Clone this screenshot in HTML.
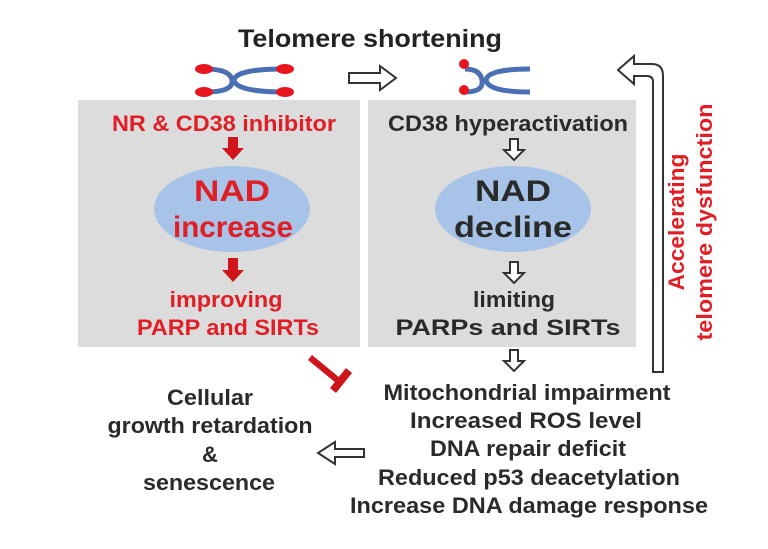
<!DOCTYPE html>
<html><head><style>
body{margin:0;width:768px;height:544px;background:#fff;overflow:hidden;font-family:"Liberation Sans",sans-serif;font-weight:bold;}
svg text{font-family:"Liberation Sans",sans-serif;font-weight:bold;}
</style></head><body>
<svg width="768" height="544" viewBox="0 0 768 544">
<rect x="78" y="100" width="282" height="247" fill="#dcdcdc"/>
<rect x="368" y="100" width="268" height="247" fill="#dcdcdc"/>
<text x="370" y="47" font-size="25" text-anchor="middle" fill="#222" textLength="264" lengthAdjust="spacingAndGlyphs">Telomere shortening</text>
<g fill="none" stroke="#4a6fb5" stroke-width="5">
<path d="M205 69 Q230 69 232 80 Q234 92 205 92"/>
<path d="M285 69 Q236 69 234 80 Q236 92 285 92"/>
<path d="M465 69 Q480 69 482 80 Q484 92 465 92"/>
<path d="M530 69 Q488 69 486 80 Q488 92 530 92"/>
</g>
<g fill="#e8141e">
<ellipse cx="204" cy="69" rx="9" ry="5"/><ellipse cx="204" cy="92" rx="9" ry="5"/>
<ellipse cx="285" cy="69" rx="9" ry="5"/><ellipse cx="285" cy="92" rx="9" ry="5"/>
<ellipse cx="464" cy="64" rx="5" ry="5"/><ellipse cx="464" cy="90" rx="5" ry="5"/>
</g>
<g fill="#fff" stroke="#333" stroke-width="2">
<path d="M349 73 H380 V66 L396 78 L380 90 V83 H349 Z"/>
<path d="M510 139 V150 H504 L514 160 L524 150 H518 V139 Z"/>
<path d="M510 262 V273 H504 L514 283 L524 273 H518 V262 Z"/>
<path d="M510 350 V361 H504 L514 371 L524 361 H518 V350 Z"/>
<path d="M364 449 H335 V442 L318 453 L335 464 V457 H364 Z"/>
<path d="M653 372 V82 Q653 76 647 76 H634 V84 L618 70 L634 56 V64 H652 Q663 64 663 76 V372 Z"/>
</g>
<g fill="#d0141c">
<path d="M228 137 V148 H222 L233 160 L244 148 H238 V137 Z"/>
<path d="M228 258 V270 H222 L233 282 L244 270 H238 V258 Z"/>
<path d="M312 355 L340 378 L336 383 L308 360 Z"/>
<path d="M330 388 L346 368 L352 373 L336 393 Z"/>
</g>
<ellipse cx="232" cy="209" rx="78" ry="43" fill="#a8c3e8"/>
<ellipse cx="513" cy="209" rx="78" ry="43" fill="#a8c3e8"/>
<g fill="#e01e26" text-anchor="middle">
<text x="224" y="131" font-size="22" textLength="224" lengthAdjust="spacingAndGlyphs">NR &amp; CD38 inhibitor</text>
<text x="232" y="201" font-size="30" textLength="76" lengthAdjust="spacingAndGlyphs">NAD</text>
<text x="233" y="237" font-size="30" textLength="120" lengthAdjust="spacingAndGlyphs">increase</text>
<text x="226" y="307" font-size="22" textLength="113" lengthAdjust="spacingAndGlyphs">improving</text>
<text x="228" y="335" font-size="22" textLength="182" lengthAdjust="spacingAndGlyphs">PARP and SIRTs</text>
<text transform="translate(684 222) rotate(-90)" font-size="22" textLength="137" lengthAdjust="spacingAndGlyphs">Accelerating</text>
<text transform="translate(712 222) rotate(-90)" font-size="22" textLength="237" lengthAdjust="spacingAndGlyphs">telomere dysfunction</text>
</g>
<g fill="#2a2a2a" text-anchor="middle">
<text x="508" y="131" font-size="22" textLength="240" lengthAdjust="spacingAndGlyphs">CD38 hyperactivation</text>
<text x="513" y="201" font-size="30" textLength="76" lengthAdjust="spacingAndGlyphs">NAD</text>
<text x="513" y="237" font-size="30" textLength="118" lengthAdjust="spacingAndGlyphs">decline</text>
<text x="514" y="307" font-size="22" textLength="82" lengthAdjust="spacingAndGlyphs">limiting</text>
<text x="508" y="335" font-size="22" textLength="225" lengthAdjust="spacingAndGlyphs">PARPs and SIRTs</text>
<text x="527" y="400" font-size="22" textLength="287" lengthAdjust="spacingAndGlyphs">Mitochondrial impairment</text>
<text x="526" y="428" font-size="22" textLength="232" lengthAdjust="spacingAndGlyphs">Increased ROS level</text>
<text x="528" y="456" font-size="22" textLength="196" lengthAdjust="spacingAndGlyphs">DNA repair deficit</text>
<text x="529" y="485" font-size="22" textLength="302" lengthAdjust="spacingAndGlyphs">Reduced p53 deacetylation</text>
<text x="529" y="513" font-size="22" textLength="358" lengthAdjust="spacingAndGlyphs">Increase DNA damage response</text>
<text x="210" y="405" font-size="22" textLength="86" lengthAdjust="spacingAndGlyphs">Cellular</text>
<text x="210" y="433" font-size="22" textLength="205" lengthAdjust="spacingAndGlyphs">growth retardation</text>
<text x="210" y="462" font-size="22">&amp;</text>
<text x="209" y="490" font-size="22" textLength="132" lengthAdjust="spacingAndGlyphs">senescence</text>
</g>
</svg>
</body></html>
